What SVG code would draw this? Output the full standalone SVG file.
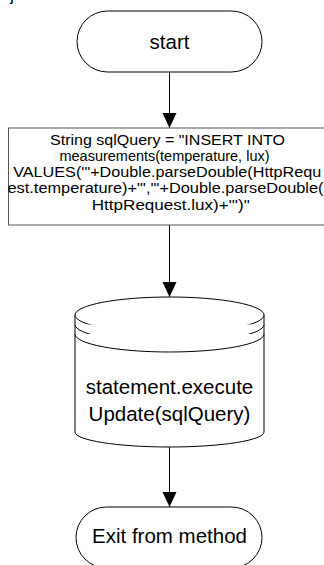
<svg xmlns="http://www.w3.org/2000/svg" width="324" height="565" viewBox="0 0 324 565">
  <style>
    .shape { fill: #ffffff; stroke: #000000; stroke-width: 1; }
    .box { fill: #ffffff; stroke: #555555; stroke-width: 1; }
    .lbl { font-family: "Liberation Sans", Arial, sans-serif; fill: #000000; text-anchor: middle; }
    .big { font-size: 20.5px; }
    .small { font-size: 15.5px; }
    .edge { stroke: #000000; stroke-width: 1; fill: none; marker-end: url(#arrow); }
  </style>
  <defs>
    <marker id="arrow" markerUnits="userSpaceOnUse" markerWidth="16" markerHeight="16" viewBox="0 0 16 16" refX="15" refY="7.5" orient="auto">
      <path d="M0,0.5 L15,7.5 L0,14.5 Z" fill="#000000"/>
    </marker>
  </defs>
  <rect width="324" height="565" fill="#ffffff"/>

  <!-- trailing glyph from the line above the chart -->
  <text class="lbl" x="12" y="1" style="font-size:16px">j</text>

  <g id="connectors">
    <line class="edge" x1="169.5" y1="72" x2="169.5" y2="128"/>
    <line class="edge" x1="169.5" y1="225" x2="169.5" y2="297"/>
    <line class="edge" x1="169.5" y1="447" x2="169.5" y2="507"/>
  </g>

  <g id="start">
    <rect class="shape" x="77" y="11" width="185" height="61" rx="30.5" ry="30.5"/>
    <text class="lbl big" x="169.5" y="48.5">start</text>
  </g>

  <g id="build-query">
    <rect class="box" x="8.5" y="128" width="323" height="97"/>
    <text class="lbl small" x="167.5" y="144.5" textLength="235" lengthAdjust="spacingAndGlyphs">String sqlQuery = "INSERT INTO</text>
    <text class="lbl small" x="164.5" y="160.8" textLength="210" lengthAdjust="spacingAndGlyphs">measurements(temperature, lux)</text>
    <text class="lbl small" x="167.2" y="177.1" textLength="308" lengthAdjust="spacingAndGlyphs">VALUES('"+Double.parseDouble(HttpRequ</text>
    <text class="lbl small" x="165.5" y="193.4" textLength="316" lengthAdjust="spacingAndGlyphs">est.temperature)+"','"+Double.parseDouble(</text>
    <text class="lbl small" x="170.8" y="209.7" textLength="158" lengthAdjust="spacingAndGlyphs">HttpRequest.lux)+"')"</text>
  </g>

  <g id="execute-update">
    <path class="shape" d="M75,315 A94.5,18 0 0,1 264,315 V432 A94.5,15 0 0,1 75,432 Z"/>
    <path class="shape" fill="none" d="M75,315 A94.5,18 0 0,0 264,315"/>
    <path class="shape" fill="none" d="M75,324.5 A94.5,18 0 0,0 264,324.5"/>
    <path class="shape" fill="none" d="M75,334 A94.5,18 0 0,0 264,334"/>
    <text class="lbl big" x="169.5" y="394">statement.execute</text>
    <text class="lbl big" x="169.5" y="421">Update(sqlQuery)</text>
  </g>

  <g id="exit">
    <rect class="shape" x="76" y="507" width="186" height="61" rx="30.5" ry="30.5"/>
    <text class="lbl big" x="169.5" y="543">Exit from method</text>
  </g>
</svg>
